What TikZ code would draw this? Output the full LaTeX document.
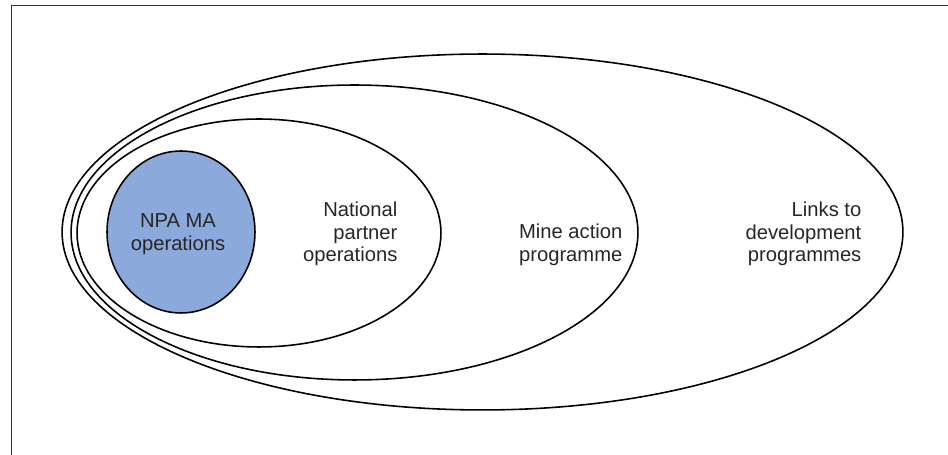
\documentclass[tikz,border=0pt]{standalone}
\usepackage{fontspec}
\setmainfont{Liberation Sans}
\usetikzlibrary{shapes,positioning}
\definecolor{npablue}{RGB}{139,170,219}
\tikzset{ring/.style={ellipse,draw,line width=0.9pt,inner sep=0pt}}
\tikzset{core/.style={ring,fill=npablue}}
\tikzset{txt/.style={align=right,inner sep=0pt,text=black!85,font=\fontsize{11.5}{12.8}\selectfont}}

\begin{document}
\begin{tikzpicture}[x=0.02cm,y=-0.02cm]
    \useasboundingbox (0,0) rectangle (948,455);
    \draw[line width=0.5pt,black!80] (11,455) -- (11,5.5) -- (948,5.5);

    \node[ring,minimum width=16.82cm,minimum height=7.12cm] (outer) at (482.5,232) {};
    \node[ring,minimum width=11.34cm,minimum height=5.9cm] (mine) at (354.5,232.5) {};
    \node[ring,minimum width=7.28cm,minimum height=4.56cm] (partner) at (259,233) {};
    \node[core,minimum width=2.96cm,minimum height=3.24cm] (npa) at (181,232) {};

    \node[txt,align=center] (npatext) at (178,234) {NPA MA\\operations};
    \node[txt,left=0.88cm of partner.east,yshift=-0.02cm] (partnertext) {National\\partner\\operations};
    \node[txt,left=0.32cm of mine.east,yshift=-0.25cm] (minetext) {Mine action\\programme};
    \node[txt,left=0.84cm of outer.east,yshift=-0.04cm] (linkstext) {Links to\\development\\programmes};
\end{tikzpicture}
\end{document}
